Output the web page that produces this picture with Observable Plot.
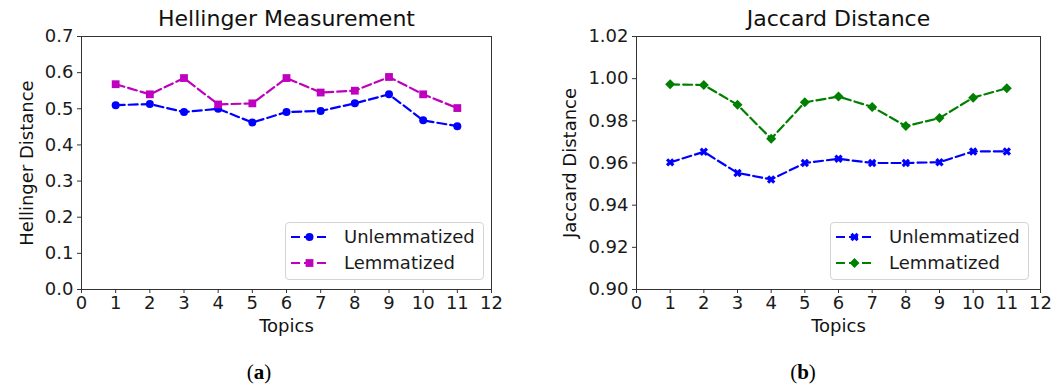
<!DOCTYPE html>
<html><head><meta charset="utf-8">
<script src="https://cdn.jsdelivr.net/npm/d3@7"></script>
<script src="https://cdn.jsdelivr.net/npm/@observablehq/plot@0.6"></script>
<style>
body{margin:0;background:#fff;}
#wrap{position:relative;width:1062px;height:385px;overflow:hidden;font-family:"DejaVu Sans";background:#fff;}
.panel{position:absolute;top:0;}
.legend{position:absolute;border:1px solid #d4d4d4;border-radius:4px;background:rgba(255,255,255,0.85);box-sizing:border-box;}
.legend svg{display:block;}
.cap{position:absolute;font-family:"Liberation Serif";font-size:21px;color:#000;transform:translate(-50%,-50%);}
</style></head><body><div id="wrap"></div>
<script>
// ---- data ----
const topics = [1, 2, 3, 4, 5, 6, 7, 8, 9, 10, 11];
const hellingerUnlem = [0.510, 0.513, 0.491, 0.500, 0.462, 0.491, 0.494, 0.515, 0.540, 0.468, 0.452];
const hellingerLem   = [0.568, 0.540, 0.585, 0.512, 0.515, 0.585, 0.545, 0.550, 0.588, 0.540, 0.502];
const jaccardUnlem   = [0.9603, 0.9653, 0.9553, 0.9522, 0.9600, 0.9620, 0.9600, 0.9600, 0.9604, 0.9655, 0.9655];
const jaccardLem     = [0.9973, 0.9970, 0.9876, 0.9715, 0.9888, 0.9915, 0.9866, 0.9775, 0.9813, 0.9910, 0.9955];
const xTicks = [0, 1, 2, 3, 4, 5, 6, 7, 8, 9, 10, 11, 12];
const hellingerTicks = [0.0, 0.1, 0.2, 0.3, 0.4, 0.5, 0.6, 0.7];
const jaccardTicks = [0.90, 0.92, 0.94, 0.96, 0.98, 1.00, 1.02];
const seriesNames = ["Unlemmatized", "Lemmatized"];

// ---- custom matplotlib-like symbols ----
const diamondD = {draw(ctx, size){ const h = Math.sqrt(size/2); ctx.moveTo(0,-h); ctx.lineTo(h,0); ctx.lineTo(0,h); ctx.lineTo(-h,0); ctx.closePath(); }};
const filledX = {draw(ctx, size){
  const a = Math.sqrt(size)*0.62, w = a*0.36, c = Math.SQRT1_2;
  const pts = [[w,a],[w,w],[a,w],[a,-w],[w,-w],[w,-a],[-w,-a],[-w,-w],[-a,-w],[-a,w],[-w,w],[-w,a]];
  pts.forEach(([x,y],i)=>{ const X=(x-y)*c, Y=(x+y)*c; i?ctx.lineTo(X,Y):ctx.moveTo(X,Y); });
  ctx.closePath();
}};

const wrap = document.getElementById("wrap");
const dash = "9,4";
const toRows = vals => topics.map((t,i)=>({topic:t, value:vals[i]}));

function panel({left, width, mL, mR, title, ylabel, ylabelDx, yDomain, yTicks, yFmt, series}) {
  const marks = [
    Plot.frame({stroke:"#333", strokeWidth:1}),
    Plot.axisX({ticks:xTicks, tickSize:4, tickPadding:3, fontSize:18, label:null, stroke:"#333"}),
    Plot.axisY({ticks:yTicks, tickFormat:d3.format(yFmt), tickSize:4, tickPadding:4, fontSize:18, label:null, stroke:"#333"}),
    Plot.text([title], {text:d=>d, frameAnchor:"top", lineAnchor:"middle", textAnchor:"middle", dy:-18, fontSize:22, fill:"#111"}),
    Plot.text(["Topics"], {text:d=>d, frameAnchor:"bottom", lineAnchor:"middle", textAnchor:"middle", dy:37, fontSize:18, fill:"#111"}),
    Plot.text([ylabel], {text:d=>d, frameAnchor:"left", lineAnchor:"middle", textAnchor:"middle", rotate:-90, dx:ylabelDx, fontSize:18, fill:"#111"})
  ];
  for (const s of series) {
    const rows = toRows(s.values);
    marks.push(Plot.line(rows, {x:"topic", y:"value", stroke:s.color, strokeWidth:2.2, strokeDasharray:dash}));
    marks.push(Plot.dot(rows, {x:"topic", y:"value", symbol:s.symbol, fill:s.color, stroke:"none", r:s.r}));
  }
  const chart = Plot.plot({
    width, height:345, marginLeft:mL, marginRight:mR, marginTop:36, marginBottom:56,
    style:{fontFamily:"DejaVu Sans", fontSize:"18px", color:"#1a1a1a", background:"transparent", overflow:"visible"},
    x:{domain:[0,12]},
    y:{domain:yDomain},
    marks
  });
  chart.classList.add("panel");
  chart.style.left = left + "px";
  wrap.appendChild(chart);
}

function legend({left, top, series}) {
  const div = document.createElement("div");
  div.className = "legend";
  div.style.left = left+"px"; div.style.top = top+"px";
  div.style.width = "199px"; div.style.height = "58px";
  const svg = d3.create("svg").attr("width",197).attr("height",56)
    .style("font-family","DejaVu Sans").style("font-size","18px");
  series.forEach((s,i)=>{
    const y = 14 + i*26;
    svg.append("line").attr("x1",5).attr("x2",40).attr("y1",y).attr("y2",y)
      .attr("stroke",s.color).attr("stroke-width",2.2).attr("stroke-dasharray",dash);
    const size = Math.PI*s.r*s.r;
    const sym = typeof s.symbol === "string" ? {circle:d3.symbolCircle, square:d3.symbolSquare}[s.symbol] : s.symbol;
    svg.append("path").attr("d", d3.symbol(sym, size)()).attr("transform",`translate(23.5,${y})`).attr("fill",s.color);
    svg.append("text").attr("x",58).attr("y",y).attr("dy","0.35em").attr("fill","#1a1a1a").text(s.name);
  });
  div.appendChild(svg.node());
  wrap.appendChild(div);
}

const leftSeries = [
  {name:seriesNames[0], values:hellingerUnlem, color:"#0000ff", symbol:"circle", r:4},
  {name:seriesNames[1], values:hellingerLem, color:"#bf00bf", symbol:"square", r:4.4}
];
const rightSeries = [
  {name:seriesNames[0], values:jaccardUnlem, color:"#0000ff", symbol:filledX, r:4},
  {name:seriesNames[1], values:jaccardLem, color:"#008000", symbol:diamondD, r:4}
];

panel({left:0, width:520, mL:81, mR:29, title:"Hellinger Measurement", ylabel:"Hellinger Distance", ylabelDx:-54,
  yDomain:[0,0.7], yTicks:hellingerTicks, yFmt:".1f", series:leftSeries});
panel({left:540, width:522, mL:96, mR:22, title:"Jaccard Distance", ylabel:"Jaccard Distance", ylabelDx:-66,
  yDomain:[0.90,1.02], yTicks:jaccardTicks, yFmt:".2f", series:rightSeries});

legend({left:285, top:222, series:leftSeries});
legend({left:830, top:222, series:rightSeries});

const capA = document.createElement("div"); capA.className="cap"; capA.style.left="259px"; capA.style.top="372px"; capA.innerHTML="(<b>a</b>)"; wrap.appendChild(capA);
const capB = document.createElement("div"); capB.className="cap"; capB.style.left="803px"; capB.style.top="372px"; capB.innerHTML="(<b>b</b>)"; wrap.appendChild(capB);
</script>
</body></html>
